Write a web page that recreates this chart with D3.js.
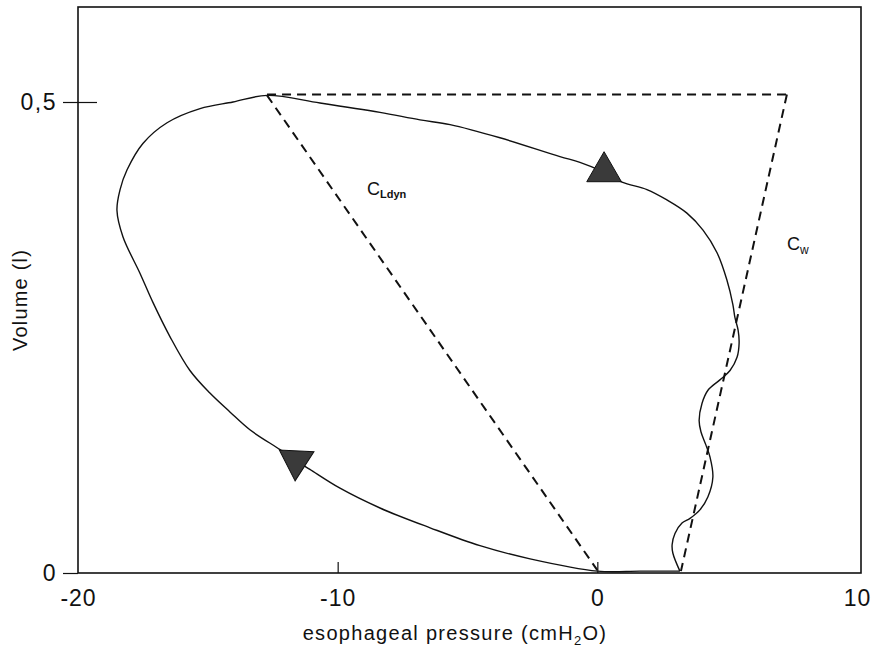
<!DOCTYPE html>
<html>
<head>
<meta charset="utf-8">
<script src="https://cdn.jsdelivr.net/npm/d3@7"></script>
<style>
  body { margin: 0; background: #fff; }
  svg text { font-family: "Liberation Sans", Arial, sans-serif; fill: #111; }
</style>
</head>
<body>
<div id="chart"></div>
<script>
// pressure-volume loop, esophageal pressure (cmH2O) vs volume (l)
var loopPressure = [3.18, 2.91, 2.88, 2.99, 3.26, 3.57, 3.95, 4.26, 4.45, 4.34, 4.18, 3.99, 3.92, 4.03,
  4.26, 4.72, 5.11, 5.38, 5.46, 5.42, 5.30, 5.22, 4.99, 4.61, 4.07, 3.45, 2.68, 1.91, 0.95, 0.22,
  -0.67, -1.44, -3.75, -5.67, -6.83, -8.37, -10.68, -12.72, -14.03, -15.30, -16.57, -17.50, -18.11,
  -18.38, -18.50, -18.27, -17.61, -17.11, -16.46, -15.69, -14.92, -14.15, -13.38, -12.22, -11.64,
  -11.07, -9.91, -8.37, -6.44, -4.52, -2.59, 0, 1.64, 3.18];
var loopVolume = [0.002, 0.021, 0.030, 0.042, 0.053, 0.058, 0.067, 0.081, 0.102, 0.123, 0.136, 0.150, 0.162, 0.180,
  0.194, 0.205, 0.215, 0.229, 0.244, 0.258, 0.271, 0.285, 0.311, 0.340, 0.364, 0.382, 0.396, 0.407, 0.415, 0.426,
  0.436, 0.442, 0.462, 0.476, 0.481, 0.489, 0.499, 0.507, 0.500, 0.493, 0.478, 0.456, 0.428,
  0.407, 0.385, 0.357, 0.318, 0.287, 0.251, 0.215, 0.191, 0.171, 0.152, 0.131, 0.120,
  0.110, 0.090, 0.069, 0.048, 0.029, 0.015, 0.002, 0.002, 0.002];

// dashed compliance lines: [pressure, volume] pairs
var topLine = [[-12.72, 0.508], [7.30, 0.508]];
var cLdynLine = [[-12.72, 0.507], [0, 0.003]];
var cwLine = [[7.30, 0.508], [3.22, 0.002]];

// direction arrows (triangles)
var arrowPressure = [0.26, -11.6];
var arrowVolume = [0.426, 0.119];
var arrowAngle = [0, 183];

var xTicks = [-20, -10, 0, 10];
var xTickLabels = ["-20", "-10", "0", "10"];
var yTicks = [0, 0.5];
var yTickLabels = ["0", "0,5"];

var svgWidth = 879, svgHeight = 649;
var frame = { left: 78, right: 861, top: 7, bottom: 573 };

var svg = d3.select("#chart").append("svg")
  .attr("width", svgWidth)
  .attr("height", svgHeight);

var x = d3.scaleLinear().domain([-20, 10]).range([78, 857]);
var y = d3.scaleLinear().domain([0, 0.5]).range([573, 102]);

// frame
svg.append("rect")
  .attr("x", frame.left).attr("y", frame.top)
  .attr("width", frame.right - frame.left).attr("height", frame.bottom - frame.top)
  .attr("fill", "none").attr("stroke", "#111").attr("stroke-width", 1.6);

// y axis (outer ticks + labels)
var yAxis = svg.append("g")
  .attr("transform", "translate(" + frame.left + ",0)")
  .call(d3.axisLeft(y).tickValues(yTicks).tickSize(15).tickPadding(6)
    .tickFormat(function(d, i) { return yTickLabels[i]; }));
yAxis.select(".domain").remove();
yAxis.selectAll("line").attr("stroke", "#111").attr("stroke-width", 1.2);
yAxis.selectAll("text").attr("font-size", 23).attr("letter-spacing", 1.5)
  .attr("font-family", "Liberation Sans, Arial, sans-serif");

// inner part of the 0,5 tick
var yInner = svg.append("g")
  .attr("transform", "translate(" + frame.left + ",0)")
  .call(d3.axisRight(y).tickValues([0.5]).tickSize(19).tickFormat(""));
yInner.select(".domain").remove();
yInner.selectAll("line").attr("stroke", "#111").attr("stroke-width", 1.2);

// x axis labels
var xAxis = svg.append("g")
  .attr("transform", "translate(0," + frame.bottom + ")")
  .call(d3.axisBottom(x).tickValues(xTicks).tickSize(0).tickPadding(17)
    .tickFormat(function(d, i) { return xTickLabels[i]; }));
xAxis.select(".domain").remove();
xAxis.selectAll("text").attr("font-size", 23).attr("letter-spacing", 1)
  .attr("font-family", "Liberation Sans, Arial, sans-serif");

// inner x ticks
var xInner = svg.append("g")
  .attr("transform", "translate(0," + frame.bottom + ")")
  .call(d3.axisTop(x).tickValues([-10, 0]).tickSize(11).tickFormat(""));
xInner.select(".domain").remove();
xInner.selectAll("line").attr("stroke", "#111").attr("stroke-width", 1.2);

// axis titles
var xTitle = svg.append("text")
  .attr("x", 455).attr("y", 640)
  .attr("text-anchor", "middle")
  .attr("font-size", 20).attr("letter-spacing", 1.3);
xTitle.append("tspan").text("esophageal pressure (cmH");
xTitle.append("tspan").attr("font-size", 13).attr("dy", 5).text("2");
xTitle.append("tspan").attr("dy", -5).text("O)");

svg.append("text")
  .attr("transform", "translate(27,300) rotate(-90)")
  .attr("text-anchor", "middle")
  .attr("font-size", 20).attr("letter-spacing", 1.2)
  .text("Volume (l)");

// dashed lines
var line = d3.line().x(function(d) { return x(d[0]); }).y(function(d) { return y(d[1]); });
[topLine, cLdynLine, cwLine].forEach(function(seg) {
  svg.append("path")
    .attr("d", line(seg))
    .attr("fill", "none").attr("stroke", "#111")
    .attr("stroke-width", 2).attr("stroke-dasharray", "9,6");
});

// loop
var loopData = loopPressure.map(function(p, i) { return [p, loopVolume[i]]; });
svg.append("path")
  .attr("d", d3.line()
    .x(function(d) { return x(d[0]); })
    .y(function(d) { return y(d[1]); })
    .curve(d3.curveCatmullRom.alpha(0.5))(loopData))
  .attr("fill", "none").attr("stroke", "#111").attr("stroke-width", 1.4);

// arrows
var tri = d3.symbol().type(d3.symbolTriangle).size(520);
arrowPressure.forEach(function(p, i) {
  svg.append("path")
    .attr("d", tri())
    .attr("transform", "translate(" + x(p) + "," + y(arrowVolume[i]) + ") rotate(" + arrowAngle[i] + ")")
    .attr("fill", "#3a3a3a").attr("stroke", "#111").attr("stroke-width", 1);
});

// compliance labels
var cl = svg.append("text")
  .attr("x", x(-8.87)).attr("y", y(0.401))
  .attr("font-size", 18);
cl.append("tspan").text("C");
cl.append("tspan").attr("font-size", 11).attr("font-weight", "bold").attr("dy", 3).text("Ldyn");

var cw = svg.append("text")
  .attr("x", x(7.30)).attr("y", y(0.343))
  .attr("font-size", 18);
cw.append("tspan").text("C");
cw.append("tspan").attr("font-size", 12).attr("dy", 4).text("w");
</script>
</body>
</html>
